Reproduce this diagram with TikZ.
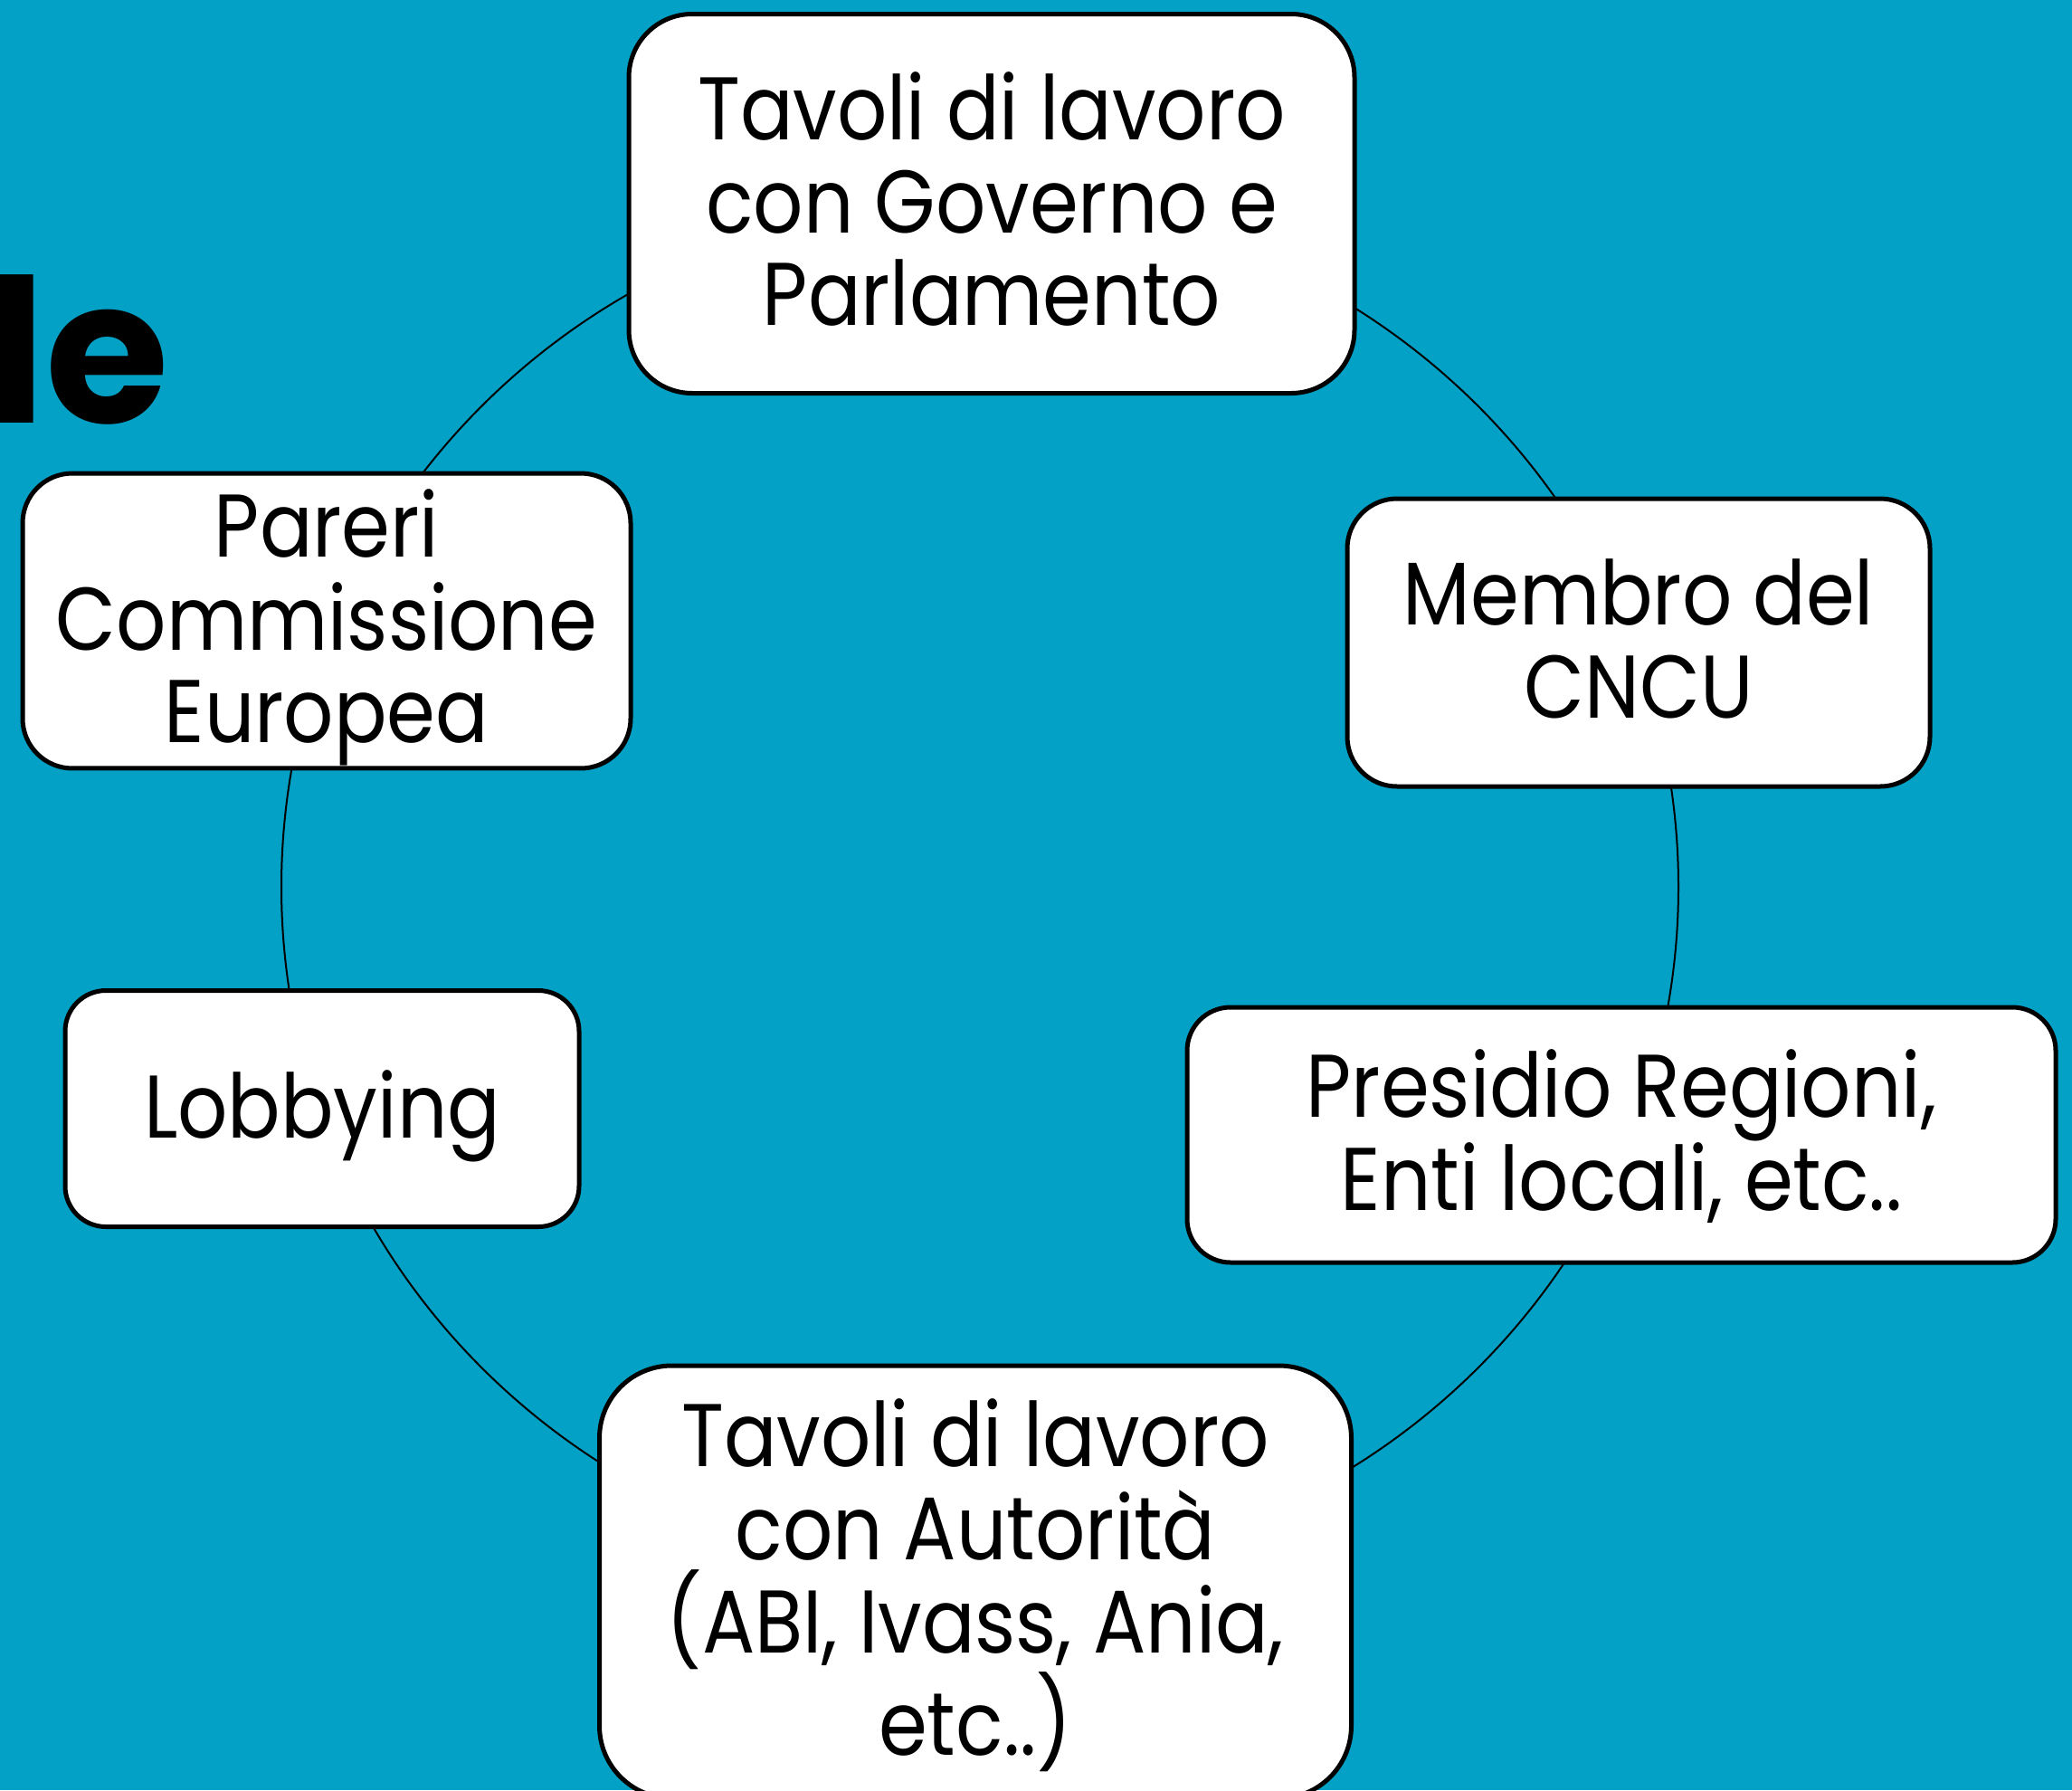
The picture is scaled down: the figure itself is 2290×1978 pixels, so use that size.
\documentclass[tikz,border=0pt]{standalone}
\usepackage{fontspec}
\usepackage{xcolor}
\setmainfont{Poppins}
\newfontfamily\boxfont[FakeStretch=0.88]{Poppins}
\definecolor{bgcyan}{RGB}{3,161,198}
\newcommand{\upstrut}{\rule{0pt}{9.2mm}}
\newcommand{\downstrut}{\rule[-2.8mm]{0pt}{2.8mm}}

\begin{document}
\begin{tikzpicture}[x=0.1mm, y=-0.1mm,
    cyclebox/.style={draw=black, line width=0.5mm, fill=white, rounded corners=#1,
      align=center, inner sep=0pt, font=\boxfont\fontsize{28}{29.3}\selectfont},
    ringline/.style={draw=black, line width=0.2mm}]

    \useasboundingbox (0,0) rectangle (2290,1978);
    \fill[bgcyan] (0,0) rectangle (2290,1978);

    \node[anchor=base east, inner sep=0pt, font=\bfseries\fontsize{63}{63}\selectfont] (title) at (188,467) {le};

    \draw[ringline] (1083,980) ellipse [x radius=772, y radius=758];

    \node[cyclebox=7mm, minimum width=80.2mm, minimum height=41.9mm] (governo) at (1096,225) {\upstrut Tavoli di lavoro\\con Governo e\\Parlamento\downstrut};
    \node[cyclebox=5.5mm, minimum width=64.4mm, minimum height=31.8mm] (cncu) at (1811,710) {\upstrut Membro del\\CNCU\downstrut};
    \node[cyclebox=4.8mm, minimum width=96mm, minimum height=28.2mm] (regioni) at (1792,1254) {\upstrut Presidio Regioni,\\Enti locali, etc..\downstrut};
    \node[cyclebox=8mm, minimum width=83.1mm, minimum height=47.8mm] (autorita) at (1078,1748) {\upstrut Tavoli di lavoro\\con Autorità\\(ABI, Ivass, Ania,\\etc..)\downstrut};
    \node[cyclebox=4.5mm, minimum width=56.8mm, minimum height=26.1mm] (lobby) at (356,1225) {\upstrut Lobbying\downstrut};
    \node[cyclebox=5.5mm, minimum width=67.2mm, minimum height=31.8mm] (pareri) at (361,686) {\upstrut Pareri\\Commissione\\Europea\downstrut};

\end{tikzpicture}
\end{document}
